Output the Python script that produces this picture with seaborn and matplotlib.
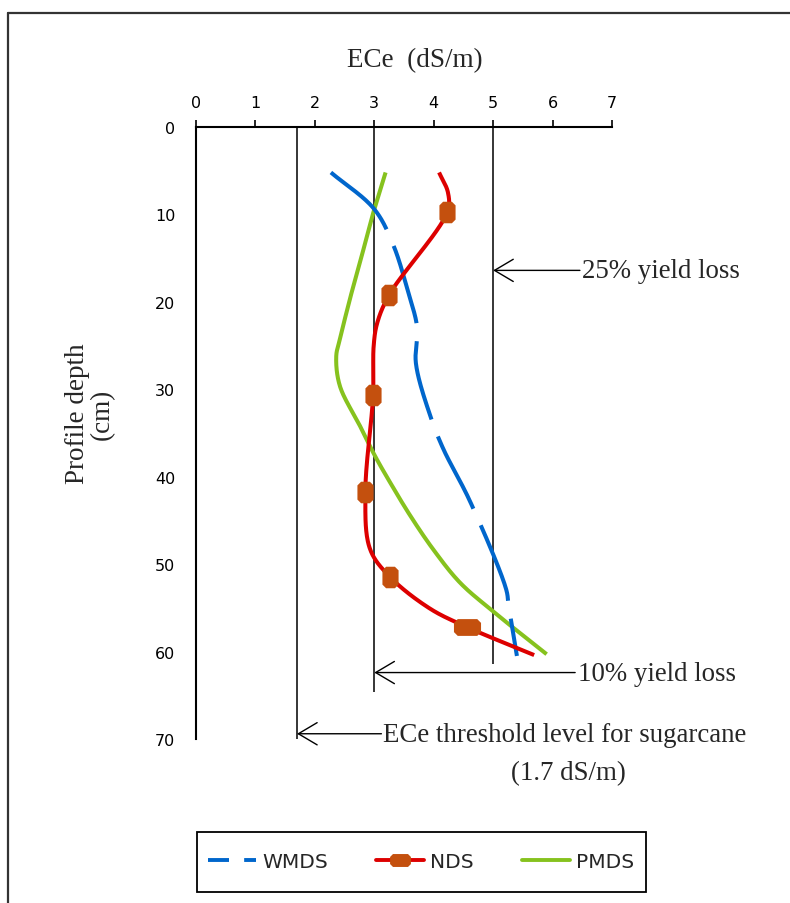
import numpy as np
import pandas as pd
import matplotlib
matplotlib.use("Agg")
import matplotlib.pyplot as plt
from matplotlib.lines import Line2D
from matplotlib.patches import Rectangle
from matplotlib.path import Path
import seaborn as sns

# ECe (dS/m) profiles down the soil column, depth in cm
wmds_depth = [5.2, 9.4, 13.5, 18.9, 22.9, 27.0, 33.0, 36.8, 42.8, 52.9, 54.7, 60.5]
wmds_ece = [2.27, 3.00, 3.32, 3.57, 3.72, 3.70, 3.94, 4.16, 4.61, 5.22, 5.26, 5.40]

nds_depth = [5.2, 7.5, 9.7, 19.2, 22.4, 25.0, 30.7, 41.8, 48.3, 51.5, 55.1, 57.2, 60.4]
nds_ece = [4.09, 4.24, 4.23, 3.25, 3.05, 2.99, 2.98, 2.85, 2.93, 3.27, 3.94, 4.56, 5.69]
nds_mark_depth = [9.7, 19.2, 30.7, 41.8, 51.5, 57.2]
nds_mark_ece = [4.23, 3.25, 2.98, 2.85, 3.27, 4.56]

pmds_depth = [5.2, 9.4, 13.2, 18.9, 24.3, 26.2, 29.6, 34.2, 37.6, 40.7, 44.4, 48.3, 52.1, 55.3, 60.3]
pmds_ece = [3.19, 3.00, 2.85, 2.62, 2.42, 2.36, 2.42, 2.76, 3.01, 3.27, 3.60, 3.99, 4.44, 4.98, 5.90]

# reference ECe levels and how far down each guide line runs
ref_ece = [1.7, 3.0, 5.0]
ref_bottom = [70.0, 64.6, 61.4]

x_ticks = [0, 1, 2, 3, 4, 5, 6, 7]
y_ticks = [0, 10, 20, 30, 40, 50, 60, 70]
series_names = ["WMDS", "NDS", "PMDS"]

BLUE = "#0066CC"
RED = "#DD0000"
GREEN = "#86C21E"
MARK = "#C4500E"
SERIF = "Liberation Serif"
TXT = 19.4


def smooth(xs, ys, sx=59.4, sy=8.74, n=30):
    """Centripetal Catmull-Rom curve through the given points."""
    P = np.column_stack([np.asarray(xs) * sx, np.asarray(ys) * sy])
    P = np.vstack([2 * P[0] - P[1], P, 2 * P[-1] - P[-2]])
    out = []
    for i in range(1, len(P) - 2):
        p0, p1, p2, p3 = P[i - 1], P[i], P[i + 1], P[i + 2]
        t0 = 0.0
        t1 = t0 + np.linalg.norm(p1 - p0) ** 0.5
        t2 = t1 + np.linalg.norm(p2 - p1) ** 0.5
        t3 = t2 + np.linalg.norm(p3 - p2) ** 0.5
        for t in np.linspace(t1, t2, n, endpoint=(i == len(P) - 3)):
            a1 = (t1 - t) / (t1 - t0) * p0 + (t - t0) / (t1 - t0) * p1
            a2 = (t2 - t) / (t2 - t1) * p1 + (t - t1) / (t2 - t1) * p2
            a3 = (t3 - t) / (t3 - t2) * p2 + (t - t2) / (t3 - t2) * p3
            b1 = (t2 - t) / (t2 - t0) * a1 + (t - t0) / (t2 - t0) * a2
            b2 = (t3 - t) / (t3 - t1) * a2 + (t - t1) / (t3 - t1) * a3
            c = (t2 - t) / (t2 - t1) * b1 + (t - t1) / (t2 - t1) * b2
            out.append(c)
    out = np.array(out)
    return pd.DataFrame({"ece": out[:, 0] / sx, "depth": out[:, 1] / sy})


def octagon(w, h, c):
    a, b = w / 2, h / 2
    v = [(-a + c, b), (a - c, b), (a, b - c), (a, -b + c), (a - c, -b),
         (-a + c, -b), (-a, -b + c), (-a, b - c), (-a + c, b)]
    return Path(v, closed=True)


tall_oct = octagon(0.75, 1.0, 0.17)
wide_oct = octagon(1.0, 0.62, 0.14)

sns.set_style("white")
plt.rcParams["font.family"] = ["DejaVu Sans"]

fig = plt.figure(figsize=(7.9, 9.04), dpi=100)
ax = fig.add_axes([196 / 790, 1 - 740 / 904, 416 / 790, 612 / 904])

# guide lines for threshold / yield-loss levels
for xv, yb in zip(ref_ece, ref_bottom):
    ax.plot([xv, xv], [0, yb], color="black", lw=1.1, solid_capstyle="butt", zorder=1)

sns.lineplot(data=smooth(wmds_ece, wmds_depth), x="ece", y="depth", sort=False,
             estimator=None, color=BLUE, lw=2.9, linestyle=(0, (20, 4.5)),
             dash_capstyle="butt", ax=ax, legend=False, zorder=3)
sns.lineplot(data=smooth(nds_ece, nds_depth), x="ece", y="depth", sort=False,
             estimator=None, color=RED, lw=2.9, solid_capstyle="butt",
             ax=ax, legend=False, zorder=3)
sns.lineplot(data=smooth(pmds_ece, pmds_depth), x="ece", y="depth", sort=False,
             estimator=None, color=GREEN, lw=2.9, solid_capstyle="butt",
             ax=ax, legend=False, zorder=2)

mk = pd.DataFrame({"ece": nds_mark_ece, "depth": nds_mark_depth})
sns.scatterplot(data=mk.iloc[:-1], x="ece", y="depth", marker=tall_oct, s=240,
                color=MARK, linewidth=0, ax=ax, legend=False, zorder=4)
sns.scatterplot(data=mk.iloc[-1:], x="ece", y="depth", marker=wide_oct, s=380,
                color=MARK, linewidth=0, ax=ax, legend=False, zorder=4)

ax.set_xlim(0, 7)
ax.set_ylim(70, 0)
ax.set_xlabel("")
ax.set_ylabel("")
ax.xaxis.tick_top()
ax.set_xticks(x_ticks)
ax.set_yticks(y_ticks)
for s in ["right", "bottom"]:
    ax.spines[s].set_visible(False)
for s in ["left", "top"]:
    ax.spines[s].set_linewidth(1.5)
    ax.spines[s].set_color("black")
ax.tick_params(axis="x", direction="out", length=5, width=1.2, pad=7,
               labelsize=11.5, colors="black")
ax.tick_params(axis="y", direction="out", length=5, width=1.2, pad=10,
               labelsize=11.5, colors="black")
ax.grid(False)

# annotations with open arrow heads
arrow = dict(arrowstyle="->,head_length=1.35,head_width=0.8", lw=1.0,
             color="black", shrinkA=0, shrinkB=0, mutation_scale=10)
ax.annotate("", xy=(5.0, 16.4), xytext=(6.46, 16.4), arrowprops=arrow)
ax.text(6.50, 16.4, "25% yield loss", ha="left", va="center",
        family=SERIF, fontsize=TXT)
ax.annotate("", xy=(3.0, 62.4), xytext=(6.38, 62.4), arrowprops=arrow)
ax.text(6.42, 62.5, "10% yield loss", ha="left", va="center",
        family=SERIF, fontsize=TXT)
ax.annotate("", xy=(1.7, 69.4), xytext=(3.12, 69.4), arrowprops=arrow)
ax.text(3.15, 69.5, "ECe threshold level for sugarcane", ha="left", va="center",
        family=SERIF, fontsize=TXT, clip_on=False)
ax.text(6.26, 73.9, "(1.7 dS/m)", ha="center", va="center",
        family=SERIF, fontsize=TXT, clip_on=False)

fig.text(415 / 790, 1 - 61 / 904, "ECe  (dS/m)", ha="center", va="center",
         family=SERIF, fontsize=19.5)
fig.text(90 / 790, 1 - 414 / 904, "Profile depth\n(cm)", ha="center", va="center",
         rotation=90, family=SERIF, fontsize=19.5, linespacing=0.95,
         multialignment="center")

# outer frame on the left and top edges
fig.add_artist(Line2D([8 / 790, 8 / 790], [0, 1 - 14 / 904], transform=fig.transFigure,
                      color="#333333", lw=1.6))
fig.add_artist(Line2D([8 / 790, 1], [1 - 14 / 904, 1 - 14 / 904], transform=fig.transFigure,
                      color="#333333", lw=1.6))

# legend
fig.add_artist(Rectangle((197 / 790, 1 - 893 / 904), 449 / 790, 60 / 904, fill=False,
                         edgecolor="black", lw=1.3, transform=fig.transFigure))
handles = [
    Line2D([], [], color=BLUE, lw=2.8, linestyle=(0, (5.4, 3.9)), dash_capstyle="butt"),
    Line2D([], [], color=RED, lw=2.8, marker=wide_oct, markersize=15,
           markerfacecolor=MARK, markeredgewidth=0),
    Line2D([], [], color=GREEN, lw=2.8),
]
fig.legend(handles, series_names, loc="center", bbox_to_anchor=(421 / 790, 1 - 863 / 904),
           ncol=3, frameon=False, fontsize=14.5, handlelength=2.4, handletextpad=0.28,
           columnspacing=2.4, borderpad=0)

fig.savefig("out.png", dpi=100, facecolor="white")
